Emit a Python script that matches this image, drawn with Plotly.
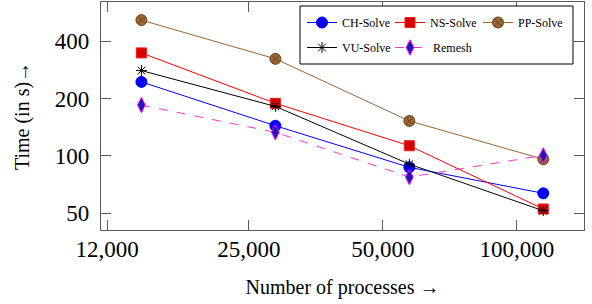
import plotly.graph_objects as go

# ---- data ----
procs = [14336, 28672, 57344, 114688]
ch_solve = [245, 144, 87, 63.5]
ns_solve = [348, 189, 113, 52.5]
pp_solve = [518, 324, 152.6, 96]
vu_solve = [281, 182, 90.4, 51.4]
remesh = [185, 133, 77.3, 100.5]

x_ticks = [12000, 25000, 50000, 100000]
x_ticktext = ["12,000", "25,000", "50,000", "100,000"]
y_ticks = [50, 100, 200, 400]
y_ticktext = ["50", "100", "200", "400"]

FONT = "Liberation Serif"

fig = go.Figure()

fig.add_trace(go.Scatter(
    x=procs, y=ch_solve, name="CH-Solve", mode="lines+markers",
    line=dict(color="#0000ff", width=1),
    marker=dict(symbol="circle", size=11, color="#0000ff", line=dict(color="#0000ff", width=1)),
    legend="legend"))
fig.add_trace(go.Scatter(
    x=procs, y=ns_solve, name="NS-Solve", mode="lines+markers",
    line=dict(color="#ff0000", width=1),
    marker=dict(symbol="square", size=10, color="#d40000", line=dict(color="#ff1a1a", width=1)),
    legend="legend"))
fig.add_trace(go.Scatter(
    x=procs, y=pp_solve, name="PP-Solve", mode="lines+markers",
    line=dict(color="#9a6632", width=1),
    marker=dict(symbol="circle-x", size=11, color="#9a6632", line=dict(color="#6b4520", width=1)),
    legend="legend"))
fig.add_trace(go.Scatter(
    x=procs, y=vu_solve, name="VU-Solve", mode="lines+markers",
    line=dict(color="#000000", width=1),
    marker=dict(symbol="asterisk-open", size=9, color="#000000", line=dict(color="#000000", width=1)),
    legend="legend2"))
fig.add_trace(go.Scatter(
    x=procs, y=remesh, name=" Remesh", mode="lines+markers",
    line=dict(color="#ff33cc", width=1, dash="dash"),
    marker=dict(symbol="diamond-tall", size=11, color="#1a1ab0", line=dict(color="#ff00ff", width=1)),
    legend="legend2"))

W, H = 592, 304
ML, MR, MT, MB = 101, 8, 2, 74
PW, PH = W - ML - MR, H - MT - MB

def px_x(p):
    return (p - ML) / PW

def px_y(p):
    return 1 - (p - MT) / PH

frame = "#5a5a5a"
axis_common = dict(
    type="log", showgrid=False, zeroline=False, automargin=False,
    showline=True, linecolor=frame, linewidth=1.3, mirror="allticks",
    ticks="inside", ticklen=10, tickcolor=frame, tickwidth=1,
    tickfont=dict(family=FONT, size=23, color="#000000"),
)

fig.update_layout(
    width=W, height=H,
    margin=dict(l=ML, r=MR, t=MT, b=MB, autoexpand=False),
    paper_bgcolor="white", plot_bgcolor="white",
    font=dict(family=FONT, color="#000000"),
    xaxis=dict(
        range=[4.0656, 5.151], tickvals=x_ticks, ticktext=x_ticktext,
        title=dict(text="Number of processes →", font=dict(family=FONT, size=20), standoff=19),
        ticklabelstandoff=-2,
        **axis_common),
    yaxis=dict(
        range=[1.6096, 2.8096], tickvals=y_ticks, ticktext=y_ticktext,
        title=dict(text="Time (in s)→", font=dict(family=FONT, size=20), standoff=19),
        ticklabelstandoff=6,
        **axis_common),
    legend=dict(
        orientation="h", x=px_x(302), y=px_y(8), xanchor="left", yanchor="top",
        bgcolor="rgba(0,0,0,0)", borderwidth=0, entrywidth=43, entrywidthmode="pixels",
        itemwidth=30, font=dict(family=FONT, size=12, color="#000000")),
    legend2=dict(
        orientation="h", x=px_x(302), y=px_y(33), xanchor="left", yanchor="top",
        bgcolor="rgba(0,0,0,0)", borderwidth=0, entrywidth=43, entrywidthmode="pixels",
        itemwidth=30, font=dict(family=FONT, size=12, color="#000000")),
    shapes=[dict(
        type="rect", xref="paper", yref="paper",
        x0=px_x(300), x1=px_x(573), y0=px_y(64), y1=px_y(6),
        line=dict(color="#000000", width=1), fillcolor="white", layer="above")],
    showlegend=True,
)

fig.write_html("out.html",
               config={"displayModeBar": False},
               post_script="document.body.style.margin='0px';document.body.style.overflow='hidden';")
